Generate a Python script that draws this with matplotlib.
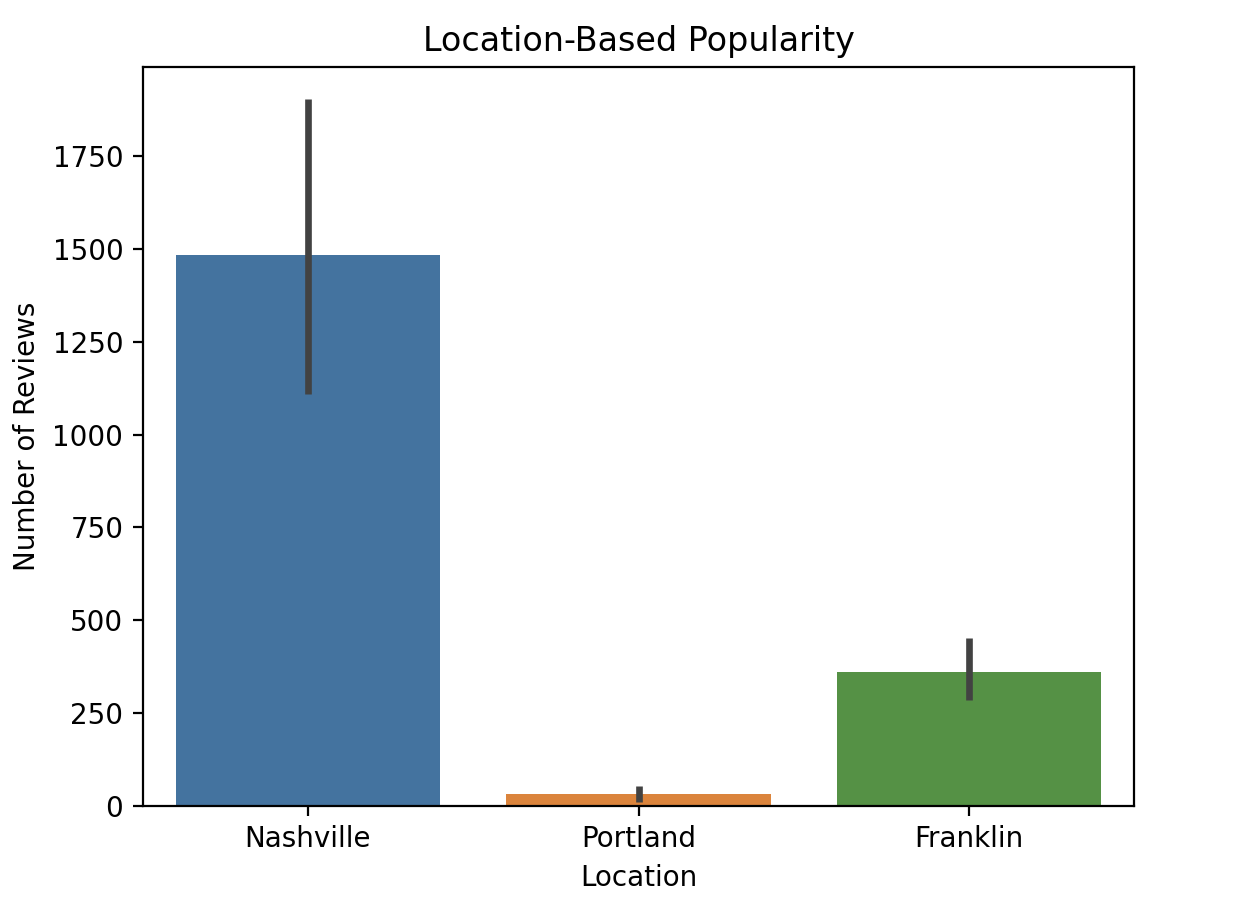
import matplotlib
matplotlib.use("Agg")
import matplotlib.pyplot as plt

# Values
locations = ['Nashville', 'Portland', 'Franklin']
mean_reviews = [1483, 32, 361]
ci_low = [1109, 11, 285]
ci_high = [1905, 54, 452]

# muted tab10-like colours
colors = ['#44739f', '#db843c', '#559145']

fig = plt.figure(figsize=(6.26, 4.61), dpi=200)
ax = fig.add_axes([0.114, 0.126, 0.792, 0.801])

x = list(range(len(locations)))
ax.bar(x, mean_reviews, width=0.8, color=colors)

# confidence intervals as vertical lines
lower = [m - lo for m, lo in zip(mean_reviews, ci_low)]
upper = [hi - m for m, hi in zip(mean_reviews, ci_high)]
ax.errorbar(x, mean_reviews, yerr=[lower, upper], fmt='none',
            ecolor='#424242', elinewidth=2.4, capsize=0)

ax.set_xlim(-0.5, 2.5)
ax.set_ylim(0, 1990)
ax.set_xticks(x)
ax.set_xticklabels(locations)
ax.set_yticks([0, 250, 500, 750, 1000, 1250, 1500, 1750])
ax.set_xlabel('Location')
ax.set_ylabel('Number of Reviews')
ax.set_title('Location-Based Popularity')

fig.savefig('out.png', dpi=200)
